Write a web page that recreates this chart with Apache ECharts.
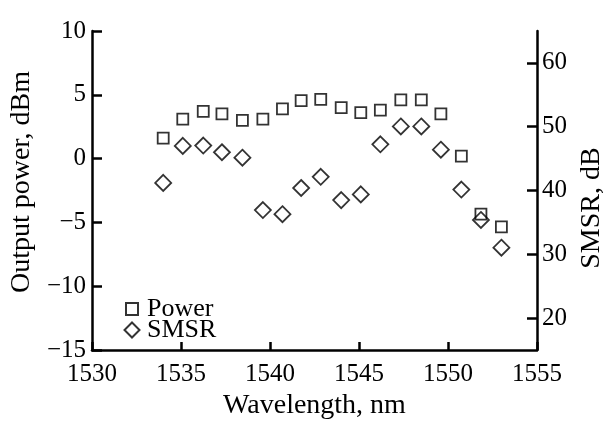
<!DOCTYPE html>
<html>
<head>
<meta charset="utf-8">
<script src="https://cdn.jsdelivr.net/npm/echarts@6/dist/echarts.min.js"></script>
<style>
  html, body { margin: 0; padding: 0; background: #fff; }
  #chart { width: 614px; height: 425px; }
</style>
</head>
<body>
<div id="chart"></div>
<script>
// Data
const wavelength = [1534.0, 1535.1, 1536.25, 1537.3, 1538.45, 1539.6, 1540.7, 1541.75, 1542.85, 1544.0, 1545.1, 1546.2, 1547.35, 1548.5, 1549.6, 1550.75, 1551.85, 1553.0];
const power = [1.6, 3.1, 3.7, 3.5, 3.0, 3.1, 3.9, 4.55, 4.65, 4.0, 3.6, 3.8, 4.6, 4.6, 3.5, 0.2, -4.35, -5.35];
const smsr = [41.2, 47.0, 47.05, 46.0, 45.15, 36.95, 36.3, 40.4, 42.15, 38.5, 39.4, 47.25, 50.05, 50.05, 46.4, 40.15, 35.4, 31.05];
const smsrTicks = [20, 30, 40, 50, 60];

const FONT = "'Liberation Serif', 'Times New Roman', serif";
const LW = 2.5;

const chart = echarts.init(document.getElementById('chart'), null, { renderer: 'canvas' });

const fmt = v => (v < 0 ? '\u2212' + Math.abs(v) : String(v));

const option = {
  backgroundColor: '#ffffff',
  animation: false,
  textStyle: { fontFamily: FONT, color: '#000' },
  grid: { left: 80, right: 67, top: 31, bottom: 60.5, containLabel: false },
  legend: {
    orient: 'vertical',
    left: 122.5,
    top: 296,
    itemWidth: 17,
    itemHeight: 17,
    itemGap: -5,
    padding: 0,
    textStyle: { fontFamily: FONT, fontSize: 26, color: '#000', lineHeight: 26, padding: [0, 0, 0, 1.5] },
    data: [
      { name: 'Power', icon: 'path://M0,0M17,17M2.5,2.5h12v12h-12z' },
      { name: 'SMSR', icon: 'path://M0,0M17,17M8.5,1L16,8.5L8.5,16L1,8.5z' }
    ]
  },
  xAxis: {
    type: 'value',
    min: 1530, max: 1555, interval: 5,
    name: 'Wavelength, nm',
    nameLocation: 'middle',
    nameGap: 35,
    nameTextStyle: { fontFamily: FONT, fontSize: 28, color: '#000' },
    axisLine: { show: true, onZero: false, lineStyle: { color: '#000', width: LW } },
    axisTick: { show: true, inside: true, length: 8, lineStyle: { color: '#000', width: LW } },
    axisLabel: { fontFamily: FONT, fontSize: 25, color: '#000', margin: 12, formatter: v => String(v) },
    splitLine: { show: false }
  },
  yAxis: [
    {
      type: 'value',
      position: 'left',
      min: -15, max: 10, interval: 5,
      name: 'Output power, dBm',
      nameLocation: 'middle',
      nameRotate: 90,
      nameGap: 43,
      nameTextStyle: { fontFamily: FONT, fontSize: 28, color: '#000', padding: [0, 0, 0, 17] },
      axisLine: { show: true, onZero: false, lineStyle: { color: '#000', width: LW } },
      axisTick: { show: true, inside: true, length: 10, lineStyle: { color: '#000', width: LW } },
      axisLabel: { fontFamily: FONT, fontSize: 25, color: '#000', margin: 6, padding: [0, 0, 14, 0], formatter: fmt },
      splitLine: { show: false }
    },
    {
      type: 'value',
      position: 'right',
      min: 15, max: 65,
      name: 'SMSR, dB',
      nameLocation: 'middle',
      nameRotate: 90,
      nameGap: 41,
      nameTextStyle: { fontFamily: FONT, fontSize: 28, color: '#000', padding: [0, 35, 0, 0] },
      axisLine: { show: true, onZero: false, lineStyle: { color: '#000', width: LW } },
      axisTick: { show: true, inside: true, length: 10, customValues: smsrTicks, lineStyle: { color: '#000', width: LW } },
      axisLabel: { fontFamily: FONT, fontSize: 25, color: '#000', margin: 5, padding: [0, 0, 14, 0], customValues: smsrTicks, formatter: v => String(v) },
      splitLine: { show: false }
    }
  ],
  series: [
    {
      name: 'Power',
      type: 'scatter',
      yAxisIndex: 0,
      symbol: 'rect',
      symbolSize: 11,
      itemStyle: { color: 'rgba(0,0,0,0)', borderColor: '#000', borderWidth: 1.8 },
      data: wavelength.map((w, i) => [w, power[i]])
    },
    {
      name: 'SMSR',
      type: 'scatter',
      yAxisIndex: 1,
      symbol: 'diamond',
      symbolSize: 16,
      itemStyle: { color: 'rgba(0,0,0,0)', borderColor: '#000', borderWidth: 1.8 },
      data: wavelength.map((w, i) => [w, smsr[i]])
    }
  ]
};

chart.setOption(option);
</script>
</body>
</html>
